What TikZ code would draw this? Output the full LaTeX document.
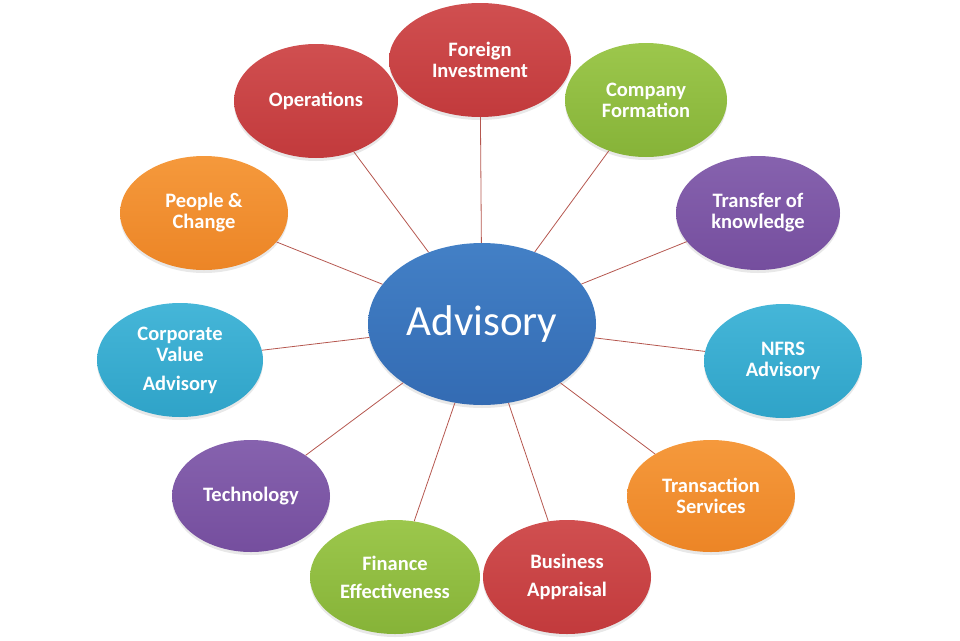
\documentclass[tikz,border=0pt]{standalone}
\usepackage{fontspec}
\setmainfont{Carlito}
\usetikzlibrary{shapes.geometric,shadows}
\definecolor{cred}{HTML}{C23A3C}
\definecolor{credt}{HTML}{D04F50}
\definecolor{cgreen}{HTML}{86B338}
\definecolor{cgreent}{HTML}{9CC74C}
\definecolor{cpurple}{HTML}{754E9E}
\definecolor{cpurplet}{HTML}{8662AE}
\definecolor{corange}{HTML}{EC8526}
\definecolor{coranget}{HTML}{F5993C}
\definecolor{cteal}{HTML}{2FA3C8}
\definecolor{ctealt}{HTML}{45B6D8}
\definecolor{cblue}{HTML}{336BB3}
\definecolor{cbluet}{HTML}{4380C6}
\definecolor{cline}{HTML}{B5574F}
\tikzset{
  bub/.style={ellipse, inner sep=0pt, text=white, align=center,
    font=\fontsize{20.5}{21}\selectfont\bfseries,
    drop shadow={shadow xshift=0pt, shadow yshift=-3pt, opacity=0.18}},
  redb/.style={bub, top color=credt, bottom color=cred},
  greenb/.style={bub, top color=cgreent, bottom color=cgreen},
  purpleb/.style={bub, top color=cpurplet, bottom color=cpurple},
  orangeb/.style={bub, top color=coranget, bottom color=corange},
  tealb/.style={bub, top color=ctealt, bottom color=cteal},
  link/.style={draw=cline, line width=0.8pt}
}
\begin{document}
\begin{tikzpicture}[x=1pt,y=-1pt]
\useasboundingbox (0,0) rectangle (960,640);
\node[ellipse, inner sep=0pt, minimum width=228pt, minimum height=162pt,
  top color=cbluet, bottom color=cblue, text=white,
  font=\fontsize{43}{48}\selectfont,
  drop shadow={shadow xshift=0pt, shadow yshift=-3pt, opacity=0.18}] (adv) at (482,324) {Advisory};
\node[redb, minimum width=182pt, minimum height=114pt] (fi) at (480,60) {Foreign\\Investment};
\node[redb, minimum width=164pt, minimum height=114pt] (op) at (316,101) {Operations};
\node[greenb, minimum width=162pt, minimum height=114pt] (cf) at (646,100) {Company\\Formation};
\node[orangeb, minimum width=168pt, minimum height=114pt] (pc) at (204,213) {People \&\\Change};
\node[purpleb, minimum width=164pt, minimum height=114pt] (tk) at (758,213) {Transfer of\\knowledge};
\node[tealb, minimum width=166pt, minimum height=114pt] (cv) at (180,360) {Corporate\\Value\\[8pt]Advisory};
\node[tealb, minimum width=158pt, minimum height=114pt] (nf) at (783,361) {NFRS\\Advisory};
\node[purpleb, minimum width=158pt, minimum height=112pt] (te) at (251,496) {Technology};
\node[orangeb, minimum width=168pt, minimum height=112pt] (ts) at (711,496) {Transaction\\Services};
\node[greenb, minimum width=170pt, minimum height=114pt] (fe) at (395,577) {Finance\\[7pt]Effectiveness};
\node[redb, minimum width=168pt, minimum height=114pt] (ba) at (567,577) {Business\\[7pt]Appraisal};
\foreach \n in {fi,op,cf,pc,tk,cv,nf,te,ts,fe,ba}
  \draw[link] (adv) -- (\n);
\end{tikzpicture}
\end{document}
